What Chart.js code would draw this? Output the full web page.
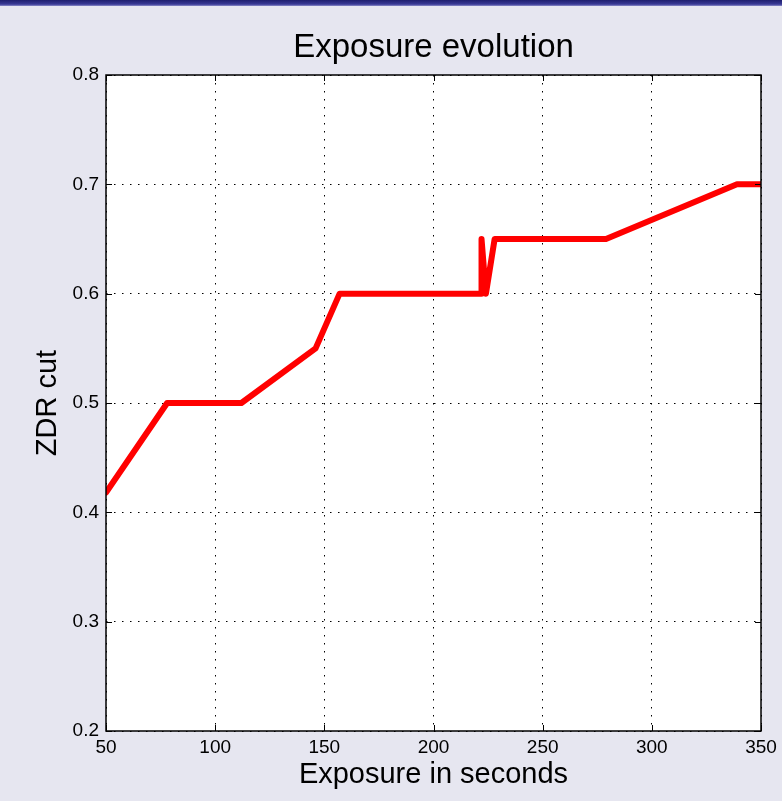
<!DOCTYPE html>
<html>
<head>
<meta charset="utf-8">
<title>Exposure evolution</title>
<script src="https://cdn.jsdelivr.net/npm/chart.js@4.4.0/dist/chart.umd.min.js"></script>
<style>
  html, body { margin: 0; padding: 0; background: #e6e6f0; }
  #topbar {
    position: absolute; left: 0; top: 0; width: 782px; height: 6px;
    background: linear-gradient(#1e1e6e, #3a3a96 70%, #8a8ac8);
  }
  #wrap { position: absolute; left: 0; top: 0; width: 782px; height: 801px; }
</style>
</head>
<body>
<div id="wrap"><canvas id="expChart" width="782" height="801"></canvas></div>
<div id="topbar"></div>
<script>
// Exposure (s) vs ZDR cut
const exposureSec = [50, 78, 112, 146, 157, 222, 222, 224, 228, 279, 339, 350];
const zdrCut = [0.418, 0.5, 0.5, 0.55, 0.6, 0.6, 0.65, 0.6, 0.65, 0.65, 0.7, 0.7];
const xTicks = [50, 100, 150, 200, 250, 300, 350];
const yTicks = [0.2, 0.3, 0.4, 0.5, 0.6, 0.7, 0.8];

const FONT = 'Liberation Sans, Arial, Helvetica, sans-serif';

// white plot box, solid frame and inward ticks (matlab look)
const framePlugin = {
  id: 'frame',
  beforeDraw(chart) {
    const a = chart.chartArea;
    const ctx = chart.ctx;
    ctx.save();
    ctx.fillStyle = '#ffffff';
    ctx.fillRect(a.left, a.top, a.right - a.left, a.bottom - a.top);
    ctx.restore();
  },
  afterDatasetsDraw(chart) {
    const a = chart.chartArea;
    const ctx = chart.ctx;
    const xs = chart.scales.x, ys = chart.scales.y;
    ctx.save();
    ctx.strokeStyle = '#000';
    ctx.lineWidth = 1;
    ctx.beginPath();
    xTicks.forEach(v => {
      const px = Math.round(xs.getPixelForValue(v)) + 0.5;
      ctx.moveTo(px, a.bottom); ctx.lineTo(px, a.bottom - 6);
      ctx.moveTo(px, a.top); ctx.lineTo(px, a.top + 6);
    });
    yTicks.forEach(v => {
      const py = Math.round(ys.getPixelForValue(v)) + 0.5;
      ctx.moveTo(a.left, py); ctx.lineTo(a.left + 6, py);
      ctx.moveTo(a.right, py); ctx.lineTo(a.right - 6, py);
    });
    ctx.stroke();
    ctx.lineWidth = 1.5;
    ctx.strokeRect(a.left, a.top, a.right - a.left, a.bottom - a.top);
    ctx.restore();
  }
};

const ctx = document.getElementById('expChart').getContext('2d');
new Chart(ctx, {
  type: 'line',
  data: {
    datasets: [{
      data: exposureSec.map((x, i) => ({ x: x, y: zdrCut[i] })),
      borderColor: '#ff0000',
      borderWidth: 6,
      borderJoinStyle: 'round',
      borderCapStyle: 'round',
      pointRadius: 0,
      fill: false,
      tension: 0
    }]
  },
  options: {
    responsive: false,
    animation: false,
    layout: { padding: { left: 0, right: 21, top: 0, bottom: 0 } },
    plugins: {
      legend: { display: false },
      tooltip: { enabled: false },
      title: { display: false }
    },
    scales: {
      // top axis only carries the title so it centres over the plot box
      top: {
        type: 'linear',
        position: 'top',
        min: 50,
        max: 350,
        afterFit(scale) { scale.height = 75; },
        ticks: { display: false },
        grid: { display: false },
        border: { display: false },
        title: {
          display: true,
          text: 'Exposure evolution',
          color: '#000',
          font: { family: FONT, size: 33, weight: 'normal', lineHeight: 1.2 },
          padding: { top: 28, bottom: 0 }
        }
      },
      x: {
        type: 'linear',
        position: 'bottom',
        min: 50,
        max: 350,
        afterFit(scale) { scale.height = 70; },
        afterBuildTicks(scale) { scale.ticks = xTicks.map(v => ({ value: v })); },
        ticks: {
          color: '#000',
          font: { family: FONT, size: 19 },
          padding: 5,
          maxRotation: 0
        },
        grid: { color: '#000', lineWidth: 1, tickLength: 0, drawTicks: false },
        border: { display: false, dash: [1.5, 6.5] },
        title: {
          display: true,
          text: 'Exposure in seconds',
          color: '#000',
          font: { family: FONT, size: 29, lineHeight: 1.2 },
          padding: { top: 0, bottom: 9 }
        }
      },
      y: {
        type: 'linear',
        min: 0.2,
        max: 0.8,
        afterFit(scale) { scale.width = 106; },
        afterBuildTicks(scale) { scale.ticks = yTicks.map(v => ({ value: v })); },
        ticks: {
          color: '#000',
          font: { family: FONT, size: 19 },
          padding: 7,
          callback: v => v.toFixed(1)
        },
        grid: { color: '#000', lineWidth: 1, tickLength: 0, drawTicks: false },
        border: { display: false, dash: [1.5, 6.5] },
        title: {
          display: true,
          text: 'ZDR cut',
          color: '#000',
          font: { family: FONT, size: 29, lineHeight: 1.2 },
          padding: { top: 31, bottom: 0 }
        }
      }
    }
  },
  plugins: [framePlugin]
});
</script>
</body>
</html>
